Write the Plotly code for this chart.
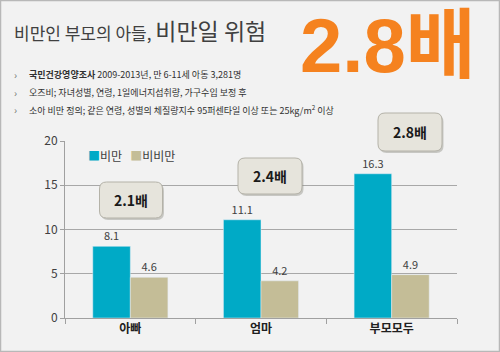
import plotly.graph_objects as go

categories = ["아빠", "엄마", "부모모두"]
obese = [8.1, 11.1, 16.3]
non_obese = [4.6, 4.2, 4.9]
ratio_labels = ["2.1배", "2.4배", "2.8배"]
series_names = ["비만", "비비만"]
series_colors = ["#00aac6", "#c4bd97"]
y_ticks = [0, 5, 10, 15, 20]

W, H = 500, 352
L, R, T, B = 65, 43, 141, 34
PW, PH = W - L - R, H - T - B

def px(x):
    return (x - L) / PW

def py(y):
    return (H - B - y) / PH

FONT = "Noto Sans CJK KR, Malgun Gothic, sans-serif"
TXT = "#404040"

fig = go.Figure()
for name, vals, col in zip(series_names, [obese, non_obese], series_colors):
    fig.add_trace(go.Bar(name=name, x=categories, y=vals, marker_color=col,
                         text=[f"{v:.1f}" for v in vals], textposition="outside",
                         textfont=dict(size=11, color=TXT), cliponaxis=False))

fig.update_layout(
    width=W, height=H, margin=dict(l=L, r=R, t=T, b=B),
    paper_bgcolor="#f2f2f2", plot_bgcolor="#f2f2f2",
    font=dict(family=FONT, color=TXT, size=12),
    barmode="group", bargap=0.425, bargroupgap=0,
    showlegend=False,
    xaxis=dict(showline=True, linecolor="#a0a0a0", linewidth=1, ticks="outside",
               tickson="boundaries", ticklen=5, tickcolor="#a0a0a0",
               tickfont=dict(size=12, color="#202020", family=FONT, weight="bold"),
               showgrid=False),
    yaxis=dict(range=[0, 20], tickvals=y_ticks, showline=True, linecolor="#a0a0a0",
               linewidth=1, ticks="outside", ticklen=4, tickcolor="#a0a0a0",
               gridcolor="#a8a8a8", gridwidth=1, zeroline=False,
               tickfont=dict(size=12, color=TXT)),
)

# legend drawn as text
fig.add_annotation(x=px(86), y=py(155), xref="paper", yref="paper", xanchor="left", yanchor="middle",
                   showarrow=False, font=dict(size=12, color=TXT, family=FONT),
                   text=(f"<span style='color:{series_colors[0]}'>■</span>{series_names[0]}   "
                         f"<span style='color:{series_colors[1]}'>■</span>{series_names[1]}"))

# callout boxes (pixel centers)
boxes = [(131, 200, 63, 36), (270, 176, 64, 36), (410, 132, 64, 38)]

def rrect(cx, cy, w, h, r):
    x0, x1 = cx - w / 2, cx + w / 2
    y0, y1 = cy - h / 2, cy + h / 2
    return (f"M {px(x0 + r)},{py(y0)} L {px(x1 - r)},{py(y0)} "
            f"Q {px(x1)},{py(y0)} {px(x1)},{py(y0 + r)} "
            f"L {px(x1)},{py(y1 - r)} Q {px(x1)},{py(y1)} {px(x1 - r)},{py(y1)} "
            f"L {px(x0 + r)},{py(y1)} Q {px(x0)},{py(y1)} {px(x0)},{py(y1 - r)} "
            f"L {px(x0)},{py(y0 + r)} Q {px(x0)},{py(y0)} {px(x0 + r)},{py(y0)} Z")

for (cx, cy, w, h), lab in zip(boxes, ratio_labels):
    fig.add_shape(type="path", path=rrect(cx + 1.5, cy + 2, w, h, 7), xref="paper", yref="paper",
                  fillcolor="rgba(120,120,110,0.35)", line=dict(width=0))
    fig.add_shape(type="path", path=rrect(cx, cy, w, h, 7), xref="paper", yref="paper",
                  fillcolor="#e6e4dc", line=dict(color="#b4b2a8", width=1))
    fig.add_annotation(x=px(cx), y=py(cy), xref="paper", yref="paper", text=f"<b>{lab}</b>",
                       xanchor="center", yanchor="middle",
                       showarrow=False, font=dict(size=14, color="#1a1a1a", family=FONT))

# border around the image
fig.add_shape(type="rect", xref="paper", yref="paper", x0=px(0.5), x1=px(W - 0.5),
              y0=py(H - 0.5), y1=py(0.5), line=dict(color="#b8b8b8", width=1.5))

# titles
fig.add_annotation(x=px(12), y=py(30), xref="paper", yref="paper", xanchor="left", yanchor="middle",
                   text="<span style='font-size:17px'>비만인 부모의 아들, </span><span style='font-size:23px'>비만일 위험</span>",
                   showarrow=False, font=dict(color="#404040", family=FONT))
fig.add_annotation(x=px(298), y=py(1), xref="paper", yref="paper", xanchor="left", yanchor="top",
                   text="<b>2.8배</b>", showarrow=False,
                   font=dict(size=76, color="#f5821f", family="Liberation Sans, Noto Sans CJK KR"))

bullets = [
    "<b>국민건강영양조사</b> 2009-2013년, 만 6-11세 아동 3,281명",
    "오즈비; 자녀성별, 연령, 1일에너지섭취량, 가구수입 보정 후",
    "소아 비만 정의; 같은 연령, 성별의 체질량지수 95퍼센타일 이상 또는 25kg/m<sup>2</sup> 이상",
]
for i, t in enumerate(bullets):
    yy = 74 + i * 18
    fig.add_annotation(x=px(12), y=py(yy), xref="paper", yref="paper", xanchor="left", yanchor="middle",
                       text="›", showarrow=False, font=dict(size=10, color="#707070", family=FONT))
    fig.add_annotation(x=px(27), y=py(yy), xref="paper", yref="paper", xanchor="left", yanchor="middle",
                       text=t, showarrow=False, font=dict(size=9, color="#303030", family=FONT))

fig.write_html("out.html")
